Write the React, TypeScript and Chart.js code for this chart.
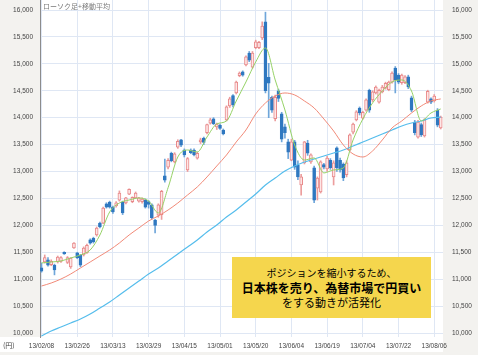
import React, { useEffect, useRef } from 'react';
import { Chart, registerables } from 'chart.js';

Chart.register(...registerables);

// ---- data ----
const xTickLabels = ['13/02/08', '13/02/26', '13/03/13', '13/03/29', '13/04/15', '13/05/01', '13/05/20', '13/06/04', '13/06/19', '13/07/04', '13/07/22', '13/08/06'];
const X_TICK_STEP = 11; // trading days between date labels
const yTicks = [10000, 10500, 11000, 11500, 12000, 12500, 13000, 13500, 14000, 14500, 15000, 15500, 16000];

const openP = [11210, 11320, 11360, 11270, 11260, 11320, 11330, 11500, 11310, 11230, 11580, 11490, 11450, 11450, 11490, 11730, 11760, 11820, 12040, 12040, 12400, 12430, 12340, 12360, 12470, 12430, 12415, 12580, 12440, 12510, 12450, 12440, 12470, 12440, 12380, 12100, 12190, 12200, 12920, 13080, 13340, 13180, 13450, 13590, 13400, 13030, 13400, 13400, 13250, 13550, 13620, 13720, 13900, 13980, 13830, 13860, 13770, 13960, 14220, 14410, 14460, 14780, 14850, 14980, 15200, 14940, 15300, 15300, 15480, 15780, 14750, 14380, 13980, 14500, 14070, 13830, 13550, 13210, 13550, 13120, 12750, 13160, 13530, 13180, 13070, 12690, 12620, 13130, 13050, 13210, 12900, 13440, 13210, 13140, 12940, 13400, 13730, 13960, 14180, 13990, 14140, 14510, 14330, 14460, 14290, 14480, 14550, 14520, 14660, 14920, 14790, 14650, 14650, 14760, 14370, 13920, 13640, 13870, 13660, 14290, 14350, 14310, 14140, 13810];
const highP = [11300, 11450, 11400, 11360, 11280, 11430, 11420, 11510, 11420, 11400, 11680, 11500, 11460, 11600, 11650, 11750, 11780, 11970, 12060, 12340, 12420, 12450, 12360, 12440, 12640, 12450, 12520, 12680, 12530, 12620, 12520, 12510, 12490, 12460, 12400, 12110, 12400, 12650, 13230, 13240, 13360, 13350, 13590, 13600, 13420, 13260, 13420, 13420, 13360, 13620, 13640, 13880, 13990, 14000, 13900, 13880, 13790, 14220, 14380, 14430, 14680, 14850, 14870, 15150, 15230, 15230, 15440, 15420, 15780, 15960, 15010, 14400, 14420, 14530, 14100, 13880, 13600, 13600, 13580, 13200, 12950, 13560, 13580, 13330, 13100, 12900, 13200, 13150, 13280, 13240, 13200, 13460, 13250, 13160, 13200, 13700, 13900, 14130, 14200, 14120, 14350, 14530, 14500, 14590, 14530, 14600, 14660, 14680, 14850, 14950, 14820, 14810, 14780, 14790, 14400, 13950, 13950, 13900, 13980, 14510, 14370, 14430, 14170, 14030];
const lowP = [11130, 11300, 11240, 11250, 11080, 11300, 11310, 11460, 11290, 11200, 11570, 11380, 11230, 11430, 11480, 11650, 11670, 11800, 11950, 12030, 12320, 12320, 12220, 12340, 12450, 12200, 12400, 12570, 12420, 12500, 12430, 12410, 12320, 12320, 12120, 11860, 12150, 12110, 12800, 13050, 13180, 13160, 13430, 13460, 13270, 13000, 13330, 13290, 13230, 13520, 13500, 13700, 13880, 13870, 13780, 13780, 13680, 13940, 14190, 14200, 14440, 14760, 14770, 14960, 15040, 14920, 15280, 15280, 15450, 14460, 14000, 14100, 13940, 14300, 13550, 13620, 13240, 13200, 13040, 12850, 12560, 13140, 13300, 13150, 12420, 12470, 12600, 13050, 13000, 13040, 12750, 13000, 12990, 12830, 12900, 13380, 13700, 13940, 14050, 13970, 14120, 14100, 14300, 14440, 14270, 14460, 14530, 14500, 14640, 14460, 14630, 14620, 14630, 14540, 14110, 13680, 13620, 13650, 13640, 14270, 14260, 14290, 13830, 13790];
const closeP = [11150, 11400, 11260, 11330, 11170, 11410, 11400, 11470, 11400, 11390, 11670, 11400, 11260, 11580, 11630, 11670, 11690, 11950, 11970, 12320, 12340, 12340, 12250, 12420, 12600, 12230, 12510, 12670, 12520, 12600, 12510, 12490, 12340, 12390, 12140, 12000, 12380, 12630, 12840, 13210, 13200, 13330, 13560, 13490, 13310, 13240, 13350, 13310, 13340, 13590, 13540, 13870, 13960, 13890, 13880, 13800, 13700, 14200, 14350, 14240, 14660, 14830, 14790, 15130, 15070, 15200, 15410, 15400, 15700, 14500, 14640, 14140, 14380, 14360, 13600, 13720, 13360, 13550, 13080, 12900, 12900, 13550, 13340, 13310, 12470, 12880, 13180, 13080, 13250, 13070, 13160, 13070, 13030, 12880, 13160, 13680, 13880, 14110, 14090, 14100, 14330, 14140, 14480, 14570, 14510, 14570, 14640, 14660, 14830, 14700, 14660, 14790, 14760, 14570, 14140, 13720, 13920, 13680, 13960, 14490, 14290, 14400, 13860, 14010];

// moving averages, sampled every MA_STEP trading days
const MA_STEP = 3;
const ma5 = [11301, 11319, 11338, 11394, 11449, 11542, 11821, 12248, 12415, 12471, 12508, 12453, 12230, 12700, 13270, 13400, 13363, 13642, 13883, 13939, 14310, 14664, 15035, 15295, 14701, 14143, 13493, 13214, 13252, 12973, 13029, 13066, 13586, 13976, 14273, 14496, 14664, 14701, 14496, 13939, 14087, 14162];
const ma25 = [10873, 10929, 11003, 11096, 11208, 11319, 11431, 11542, 11672, 11821, 11951, 12081, 12174, 12285, 12415, 12564, 12713, 12899, 13103, 13307, 13549, 13772, 14069, 14273, 14403, 14459, 14422, 14311, 14180, 13976, 13753, 13493, 13326, 13270, 13382, 13586, 13809, 13939, 14087, 14218, 14311, 14348];
const ma75 = [9944, 10037, 10111, 10186, 10260, 10353, 10464, 10576, 10706, 10836, 10966, 11096, 11207, 11337, 11468, 11598, 11728, 11876, 12006, 12155, 12285, 12433, 12582, 12749, 12879, 13009, 13102, 13176, 13232, 13288, 13343, 13399, 13474, 13548, 13622, 13697, 13771, 13845, 13901, 13938, 13994, 14012];

const chartTitle = 'ローソク足+移動平均';
const unitLabel = '(円)';
const noteLines = ['ポジションを縮小するため、', '日本株を売り、為替市場で円買い', 'をする動きが活発化'];

const Y_MIN = 9926;
const Y_MAX = 16186;
const X_MIN = -0.46;
const X_MAX = 123.7;

const tickFont = { size: 6.5, family: '"Liberation Sans", Arial, sans-serif' };
const gridColor = '#dfe7f4';
const axisBg = '#f3f2ef';

export default function App() {
  const ref = useRef<HTMLCanvasElement | null>(null);

  useEffect(() => {
    if (!ref.current) return;
    const idx = openP.map((_, i) => i);
    const isUp = (i: number) => closeP[i] >= openP[i];

    const bgPlugin = {
      id: 'bgPlugin',
      beforeDraw(c: any) {
        const { ctx, chartArea: a, width, height } = c;
        ctx.save();
        ctx.fillStyle = '#ffffff';
        ctx.fillRect(0, 0, width, height);
        ctx.fillStyle = axisBg;
        ctx.fillRect(0, 0, a.left, a.bottom);
        ctx.fillRect(a.right, 0, width - a.right, height);
        ctx.fillRect(0, height - 3, width, 3);
        ctx.restore();
      },
    };

    const maSeries = (arr: number[]) => arr.map((v, k) => ({ x: Math.min(k * MA_STEP, openP.length - 1), y: v }));

    const chart = new Chart(ref.current, {
      type: 'bar',
      data: {
        datasets: [
          {
            type: 'line',
            data: maSeries(ma5),
            borderColor: '#96d266',
            borderWidth: 1,
            pointRadius: 0,
            cubicInterpolationMode: 'monotone',
            order: 1,
          } as any,
          {
            type: 'line',
            data: maSeries(ma25),
            borderColor: '#f28a78',
            borderWidth: 1,
            pointRadius: 0,
            cubicInterpolationMode: 'monotone',
            order: 1,
          } as any,
          {
            type: 'line',
            data: maSeries(ma75),
            borderColor: '#55bdec',
            borderWidth: 1.2,
            pointRadius: 0,
            cubicInterpolationMode: 'monotone',
            order: 1,
          } as any,
          {
            type: 'bar',
            data: idx.map((i) => ({ x: i, y: [openP[i], closeP[i]] })),
            backgroundColor: (c: any) => (isUp(c.dataIndex) ? '#fde6e6' : '#2f78c0'),
            borderColor: (c: any) => (isUp(c.dataIndex) ? '#e8898a' : '#2f78c0'),
            borderWidth: 1,
            borderSkipped: false,
            barThickness: 3,
            grouped: false,
            order: 2,
          } as any,
          {
            type: 'bar',
            data: idx.map((i) => ({ x: i, y: [lowP[i], highP[i]] })),
            backgroundColor: (c: any) => (isUp(c.dataIndex) ? '#ec9d9d' : '#6fa6da'),
            borderWidth: 0,
            barThickness: 1,
            grouped: false,
            order: 3,
          } as any,
        ],
      },
      options: {
        responsive: false,
        animation: false,
        events: [],
        layout: { padding: 0 },
        plugins: { legend: { display: false }, tooltip: { enabled: false } },
        scales: {
          x: {
            type: 'linear',
            min: X_MIN,
            max: X_MAX,
            offset: false,
            afterFit: (s: any) => {
              s.height = 18;
              s.paddingLeft = 0;
              s.paddingRight = 0;
            },
            afterBuildTicks: (s: any) => {
              s.ticks = xTickLabels.map((_, k) => ({ value: k * X_TICK_STEP }));
            },
            ticks: {
              autoSkip: false,
              maxRotation: 0,
              padding: 5,
              color: '#444',
              font: tickFont,
              callback: (v: any) => xTickLabels[Math.round(Number(v) / X_TICK_STEP)] ?? '',
            },
            grid: { color: gridColor, drawTicks: false, offset: false },
            border: { display: false },
          },
          y: {
            type: 'linear',
            position: 'left',
            min: Y_MIN,
            max: Y_MAX,
            afterFit: (s: any) => {
              s.width = 40;
              s.paddingTop = 0;
              s.paddingBottom = 0;
            },
            afterBuildTicks: (s: any) => {
              s.ticks = yTicks.map((v) => ({ value: v }));
            },
            ticks: {
              padding: 7,
              color: '#444',
              font: tickFont,
              callback: (v: any) => Number(v).toLocaleString('en-US'),
            },
            grid: { color: gridColor, drawTicks: false },
            border: { display: true, color: '#8c8c8c', width: 1 },
          },
          y2: {
            type: 'linear',
            position: 'right',
            min: Y_MIN,
            max: Y_MAX,
            afterFit: (s: any) => {
              s.width = 35;
              s.paddingTop = 0;
              s.paddingBottom = 0;
            },
            afterBuildTicks: (s: any) => {
              s.ticks = yTicks.map((v) => ({ value: v }));
            },
            ticks: {
              padding: 9,
              color: '#444',
              font: tickFont,
              callback: (v: any) => Number(v).toLocaleString('en-US'),
            },
            grid: { display: false, drawTicks: false },
            border: { display: false },
          },
        },
      },
      plugins: [bgPlugin],
    } as any);

    return () => chart.destroy();
  }, []);

  const cjk = '"Noto Sans CJK JP", "Noto Sans", sans-serif';

  return (
    <div style={{ position: 'fixed', left: 0, top: 0, width: 478, height: 355, overflow: 'hidden', background: '#fff' }}>
      <canvas ref={ref} width={478} height={355} style={{ position: 'absolute', left: 0, top: 0, width: 478, height: 355 }} />
      <div style={{ position: 'absolute', left: 43, top: 2, fontFamily: cjk, fontSize: 7, lineHeight: '9px', color: '#7a7a7a', whiteSpace: 'nowrap' }}>
        {chartTitle}
      </div>
      <div style={{ position: 'absolute', left: 3, top: 341, fontFamily: cjk, fontSize: 7, lineHeight: '9px', color: '#444', whiteSpace: 'nowrap' }}>
        {unitLabel}
      </div>
      <div
        style={{
          position: 'absolute',
          left: 232,
          top: 257,
          width: 199,
          height: 61,
          background: '#f5d64d',
          fontFamily: cjk,
          color: '#000',
          textAlign: 'center',
          boxSizing: 'border-box',
          paddingTop: 8,
        }}
      >
        <div style={{ fontSize: 10, lineHeight: '15px', whiteSpace: 'nowrap' }}>{noteLines[0]}</div>
        <div style={{ fontSize: 12, lineHeight: '15px', fontWeight: 700, whiteSpace: 'nowrap' }}>{noteLines[1]}</div>
        <div style={{ fontSize: 11, lineHeight: '15px', whiteSpace: 'nowrap' }}>{noteLines[2]}</div>
      </div>
    </div>
  );
}
